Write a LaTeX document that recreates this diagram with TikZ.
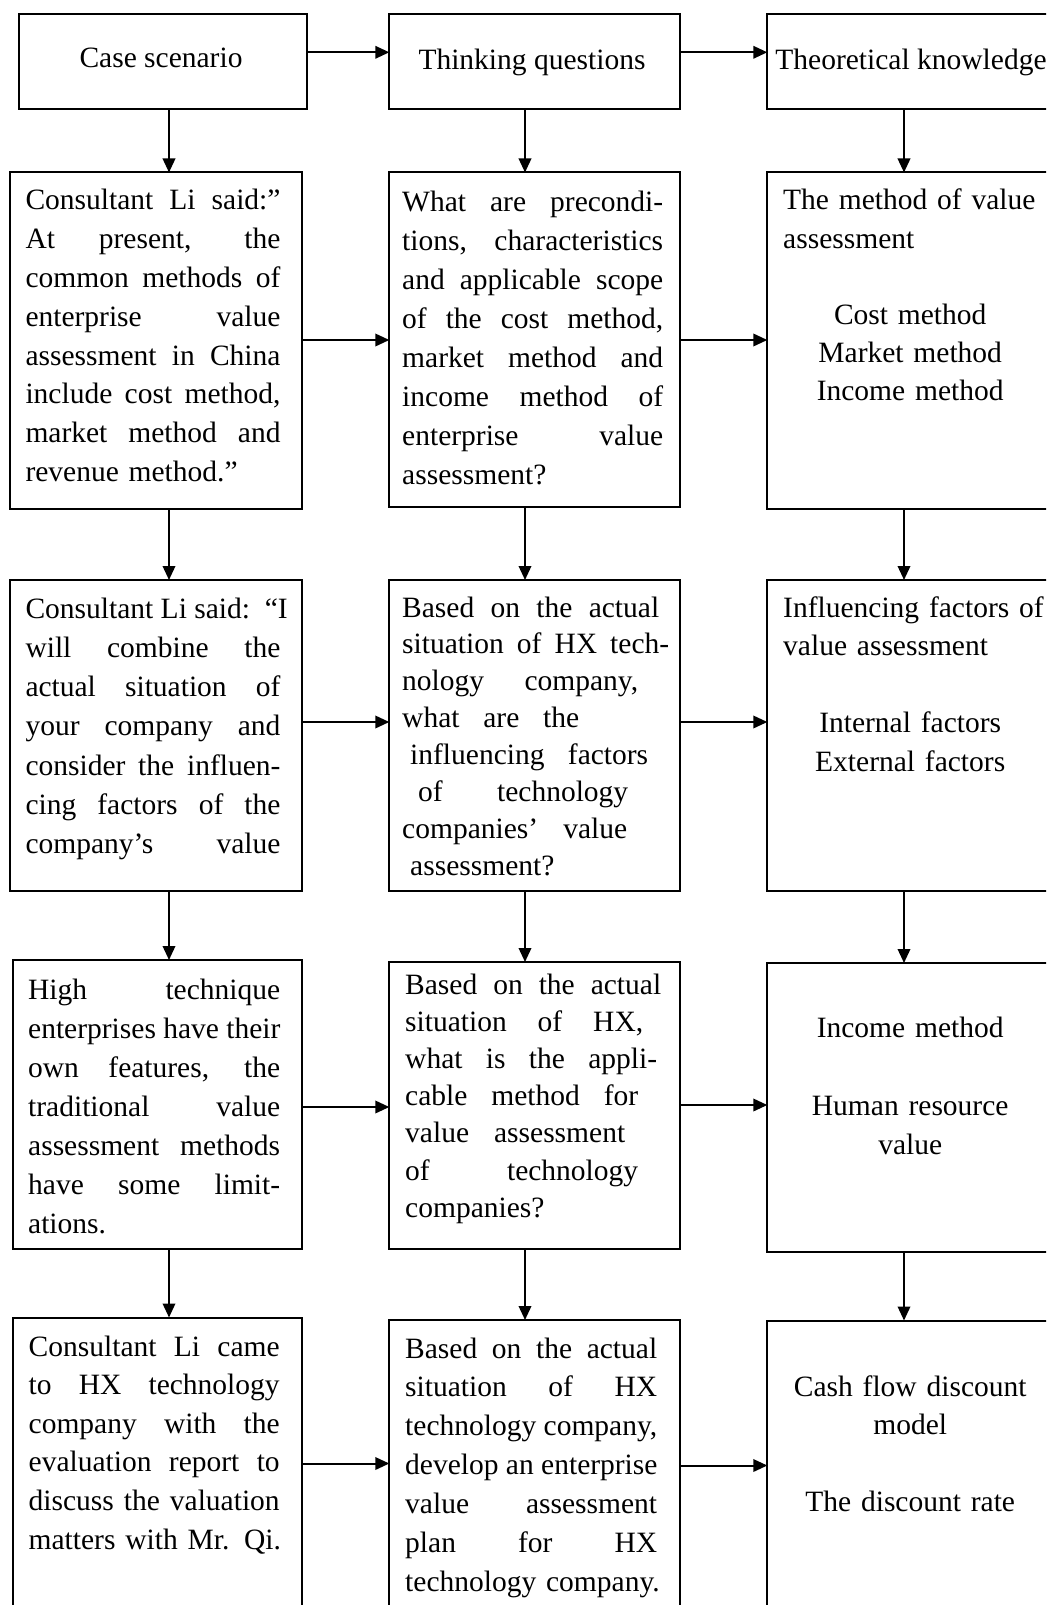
\documentclass[tikz,border=0pt]{standalone}
\usepackage{fontspec}
\setmainfont{Liberation Serif}
\usetikzlibrary{arrows.meta}
\newcommand\jline[1]{\leavevmode\hbox to\linewidth{\spaceskip=0.25em plus 1fil\relax\strut #1}\par}
\newcommand\lline[1]{\leavevmode\hbox to\linewidth{\strut #1\hfil}\par}
\newcommand\cenline[1]{\leavevmode\hbox to\linewidth{\hfil\strut #1\hfil}\par}
\newcommand\pline[3]{\leavevmode\hspace*{#1pt}\hbox to #2pt{\spaceskip=0.25em plus 1fil\relax\strut #3}\par}
\newcommand\bline{\leavevmode\hbox{\strut}\par}
\tikzset{
  box/.style={draw, line width=2pt, inner sep=0pt, outer sep=0pt},
  arr/.style={line width=2pt, -{Triangle[length=14pt,width=12.5pt]}},
  ttl/.style={font=\fontsize{29.5}{39}\selectfont, anchor=base, inner sep=0pt},
  txt/.style={font=\fontsize{29.5}{#1}\selectfont, anchor=base west, inner sep=0pt},
}
\begin{document}
\begin{tikzpicture}[x=1pt,y=-1pt]
\useasboundingbox (0,0) rectangle (1046,1605);
\clip (0,0) rectangle (1046,1605);
% boxes
\node[box, minimum width=288pt, minimum height=95.5pt] (c1) at (162.7,61.75) {};
\node[box, minimum width=290.7pt, minimum height=95.5pt] (t1) at (534.65,61.75) {};
\node[box, minimum width=287.7pt, minimum height=95.5pt] (r1) at (911.15,61.75) {};
\node[box, minimum width=291.5pt, minimum height=336pt] (c2) at (155.75,340.5) {};
\node[box, minimum width=290.7pt, minimum height=334.5pt] (t2) at (534.65,339.75) {};
\node[box, minimum width=287.7pt, minimum height=336.5pt] (r2) at (911.15,340.75) {};
\node[box, minimum width=291.5pt, minimum height=311pt] (c3) at (155.75,735.5) {};
\node[box, minimum width=290.7pt, minimum height=311pt] (t3) at (534.65,735.5) {};
\node[box, minimum width=287.7pt, minimum height=311pt] (r3) at (911.15,735.5) {};
\node[box, minimum width=288.5pt, minimum height=289pt] (c4) at (157.25,1104.5) {};
\node[box, minimum width=290.7pt, minimum height=287pt] (t4) at (534.65,1105.5) {};
\node[box, minimum width=287.7pt, minimum height=289pt] (r4) at (911.15,1107.5) {};
\node[box, minimum width=288.5pt, minimum height=382.5pt] (c5) at (157.25,1508.75) {};
\node[box, minimum width=290.7pt, minimum height=380pt] (t5) at (534.65,1510) {};
\node[box, minimum width=287.7pt, minimum height=379.5pt] (r5) at (911.15,1510.25) {};
% connector guides
\coordinate (xa) at (169,0);
\coordinate (xb) at (525,0);
\coordinate (xc) at (904,0);
\coordinate (ya) at (0,52.3);
\coordinate (yb) at (0,340);
\coordinate (yc) at (0,722);
\coordinate (yd) at (0,1107);
\coordinate (ye) at (0,1105);
\coordinate (yf) at (0,1463.5);
\coordinate (yg) at (0,1465.5);
% horizontal arrows
\draw[arr] (c1.east |- ya) -- (t1.west |- ya);
\draw[arr] (t1.east |- ya) -- (r1.west |- ya);
\draw[arr] (c2.east |- yb) -- (t2.west |- yb);
\draw[arr] (t2.east |- yb) -- (r2.west |- yb);
\draw[arr] (c3.east |- yc) -- (t3.west |- yc);
\draw[arr] (t3.east |- yc) -- (r3.west |- yc);
\draw[arr] (c4.east |- yd) -- (t4.west |- yd);
\draw[arr] (t4.east |- ye) -- (r4.west |- ye);
\draw[arr] (c5.east |- yf) -- (t5.west |- yf);
\draw[arr] (t5.east |- yg) -- (r5.west |- yg);
% vertical arrows
\draw[arr] (c1.south -| xa) -- (c2.north -| xa);
\draw[arr] (c2.south -| xa) -- (c3.north -| xa);
\draw[arr] (c3.south -| xa) -- (c4.north -| xa);
\draw[arr] (c4.south -| xa) -- (c5.north -| xa);
\draw[arr] (t1.south -| xb) -- (t2.north -| xb);
\draw[arr] (t2.south -| xb) -- (t3.north -| xb);
\draw[arr] (t3.south -| xb) -- (t4.north -| xb);
\draw[arr] (t4.south -| xb) -- (t5.north -| xb);
\draw[arr] (r1.south -| xc) -- (r2.north -| xc);
\draw[arr] (r2.south -| xc) -- (r3.north -| xc);
\draw[arr] (r3.south -| xc) -- (r4.north -| xc);
\draw[arr] (r4.south -| xc) -- (r5.north -| xc);
% titles
\node[ttl] (tc1) at (161,68) {Case scenario};
\node[ttl] (tt1) at (532,70) {Thinking questions};
\node[ttl] (tr1) at (911,70) {Theoretical knowledge};
% row 2
\node[txt=38.8, text width=255pt] (tc2) at (25.3,210) {%
\jline{Consultant Li said:”}
\jline{At present, the}
\jline{common methods of}
\jline{enterprise value}
\jline{assessment in China}
\jline{include cost method,}
\jline{market method and}
\lline{revenue method.”}};
\node[txt=39, text width=261pt] (tt2) at (402,211.5) {%
\jline{What are precondi-}
\jline{tions, characteristics}
\jline{and applicable scope}
\jline{of the cost method,}
\jline{market method and}
\jline{income method of}
\jline{enterprise value}
\lline{assessment?}};
\node[txt=38.2, text width=254pt] (tr2) at (783,210) {%
\lline{The method of value}
\lline{assessment}
\bline
\cenline{Cost method}
\cenline{Market method}
\cenline{Income method}};
% row 3
\node[txt=39.3, text width=255pt] (tc3) at (25.3,618) {%
\jline{Consultant Li said: “I}
\jline{will combine the}
\jline{actual situation of}
\jline{your company and}
\jline{consider the influen-}
\jline{cing factors of the}
\jline{company’s value}};
\node[txt=36.9, text width=270pt] (tt3) at (402,617) {%
\pline{0}{257}{Based on the actual}
\pline{0}{267}{situation of HX tech-}
\pline{0}{236}{nology company,}
\pline{0}{177}{what are the}
\pline{8}{238}{influencing factors}
\pline{16}{210}{of technology}
\pline{0}{225}{companies’ value}
\lline{\hspace*{8pt}assessment?}};
\node[txt=38.5, text width=254pt] (tr3) at (783,617) {%
\lline{Influencing factors of}
\lline{value assessment}
\bline
\cenline{Internal factors}
\cenline{External factors}};
% row 4
\node[txt=39.1, text width=252pt] (tc4) at (28,999) {%
\jline{High technique}
\jline{enterprises have their}
\jline{own features, the}
\jline{traditional value}
\jline{assessment methods}
\jline{have some limit-}
\lline{ations.}};
\node[txt=37.2, text width=260pt] (tt4) at (405,994) {%
\pline{0}{256}{Based on the actual}
\pline{0}{238}{situation of HX,}
\pline{0}{252}{what is the appli-}
\pline{0}{233}{cable method for}
\pline{0}{220}{value assessment}
\pline{0}{233}{of technology}
\lline{companies?}};
\node[txt=39.3, text width=254pt] (tr4) at (783,1037) {%
\cenline{Income method}
\bline
\cenline{Human resource}
\cenline{value}};
% row 5
\node[txt=38.6, text width=251pt] (tc5) at (28.5,1356) {%
\jline{Consultant Li came}
\jline{to HX technology}
\jline{company with the}
\jline{evaluation report to}
\jline{discuss the valuation}
\lline{matters with Mr. Qi.}};
\node[txt=38.9, text width=252pt] (tt5) at (405,1358) {%
\jline{Based on the actual}
\jline{situation of HX}
\jline{technology company,}
\jline{develop an enterprise}
\jline{value assessment}
\jline{plan for HX}
\lline{technology company.}};
\node[txt=38.5, text width=254pt] (tr5) at (783,1396) {%
\cenline{Cash flow discount}
\cenline{model}
\bline
\cenline{The discount rate}};
\end{tikzpicture}
\end{document}
